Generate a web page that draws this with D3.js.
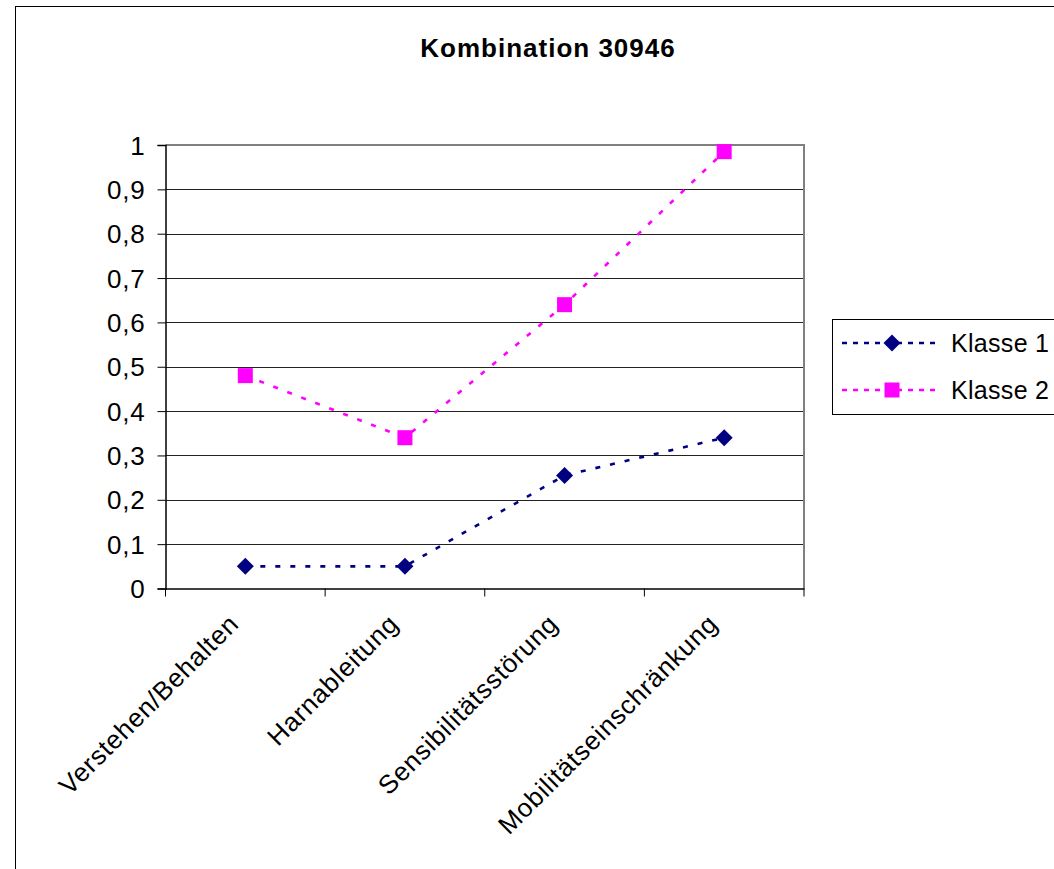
<!DOCTYPE html>
<html><head><meta charset="utf-8">
<script src="https://cdn.jsdelivr.net/npm/d3@7"></script>
<style>body{margin:0;background:#fff}svg{display:block;font-family:"Liberation Sans",Arial,sans-serif}</style>
</head><body><svg id="c" width="1054" height="869"></svg>
<script>
const categories = ["Verstehen/Behalten","Harnableitung","Sensibilitätsstörung","Mobilitätseinschränkung"];
const klasse1 = [0.05, 0.05, 0.255, 0.34];
const klasse2 = [0.48, 0.34, 0.64, 0.985];
const yTicks = [0,0.1,0.2,0.3,0.4,0.5,0.6,0.7,0.8,0.9,1];
const seriesNames = ["Klasse 1","Klasse 2"];
const title = "Kombination 30946";

const svg = d3.select("#c");
const L=165.5, R=804, T=145, B=588.5;
const x = d3.scaleBand().domain(categories).range([L,R]);
const y = d3.scaleLinear().domain([0,1]).range([B,T]);

// outer border
svg.append("rect").attr("x",15.5).attr("y",6.5).attr("width",1100).attr("height",900).attr("fill","#fff").attr("stroke","#000").attr("stroke-width",1);

svg.append("text").attr("x",548).attr("y",57).attr("text-anchor","middle").attr("font-size",26)
  .attr("letter-spacing",1).attr("font-weight","bold").text(title);

// gridlines
svg.append("g").selectAll("line").data(yTicks.filter(d=>d>0 && d<1)).join("line")
  .attr("x1",L).attr("x2",R).attr("y1",d=>Math.round(y(d))+0.5).attr("y2",d=>Math.round(y(d))+0.5)
  .attr("stroke","#222").attr("stroke-width",1);
// top/right border gray
svg.append("path").attr("d",`M${L},${T}H${R}V${B}`).attr("fill","none").attr("stroke","#808080").attr("stroke-width",2);

// y axis
const ya = svg.append("g").attr("transform",`translate(${L},0)`)
  .call(d3.axisLeft(y).tickValues(yTicks).tickSize(8).tickPadding(12).tickFormat(d=>String(d).replace(".",",")));
ya.select(".domain").attr("stroke","#000").attr("stroke-width",1.5);
ya.selectAll(".tick line").attr("stroke","#000");
ya.selectAll("text").attr("font-size",26).attr("letter-spacing",0.8).attr("font-family","Liberation Sans, Arial, sans-serif").attr("fill","#000").attr("dy","0.35em");

// x axis
const xa = svg.append("g").attr("transform",`translate(0,${B})`)
  .call(d3.axisBottom(x).tickSize(0).tickFormat(""));
xa.select(".domain").attr("stroke","#000").attr("stroke-width",1.5);
const bounds = categories.map(c=>x(c)).concat([R]);
svg.append("g").selectAll("line").data(bounds).join("line")
  .attr("x1",d=>d).attr("x2",d=>d).attr("y1",B).attr("y2",B+8).attr("stroke","#000");
svg.append("g").selectAll("text").data(categories).join("text")
  .attr("transform",d=>`translate(${x(d)+x.bandwidth()/2-5},${B+37}) rotate(-45)`)
  .attr("text-anchor","end").attr("font-size",26).attr("letter-spacing",0.8).attr("fill","#000").text(d=>d);

const cx = d=>x(d)+x.bandwidth()/2;
const line = d3.line().x((v,i)=>cx(categories[i])).y(v=>y(v));
const series = [
  {name:seriesNames[0], vals:klasse1, color:"#000080", shape:"diamond"},
  {name:seriesNames[1], vals:klasse2, color:"#FF00FF", shape:"square"}
];
function marker(g, s, px, py){
  if(s.shape==="diamond"){
    g.append("path").attr("d",`M${px},${py-8.5}L${px+8.5},${py}L${px},${py+8.5}L${px-8.5},${py}Z`).attr("fill",s.color);
  } else {
    g.append("rect").attr("x",px-7.5).attr("y",py-7.5).attr("width",15).attr("height",15).attr("fill",s.color);
  }
}
series.forEach(s=>{
  svg.append("path").datum(s.vals).attr("d",line).attr("fill","none").attr("stroke",s.color)
    .attr("stroke-width",2.6).attr("stroke-dasharray","5,10");
  const g = svg.append("g");
  s.vals.forEach((v,i)=>marker(g,s,cx(categories[i]),y(v)));
});

// legend
const lg = svg.append("g");
lg.append("rect").attr("x",832.5).attr("y",319.5).attr("width",260).attr("height",95).attr("fill","#fff").attr("stroke","#000");
series.forEach((s,i)=>{
  const ly = 343 + i*47;
  lg.append("line").attr("x1",842).attr("x2",938).attr("y1",ly).attr("y2",ly).attr("stroke",s.color).attr("stroke-width",2.6).attr("stroke-dasharray","5,6");
  marker(lg,s,892,ly);
  lg.append("text").attr("x",951).attr("y",ly).attr("dy","0.35em").attr("font-size",25).attr("letter-spacing",0.3).attr("fill","#000").text(s.name);
});
</script></body></html>
